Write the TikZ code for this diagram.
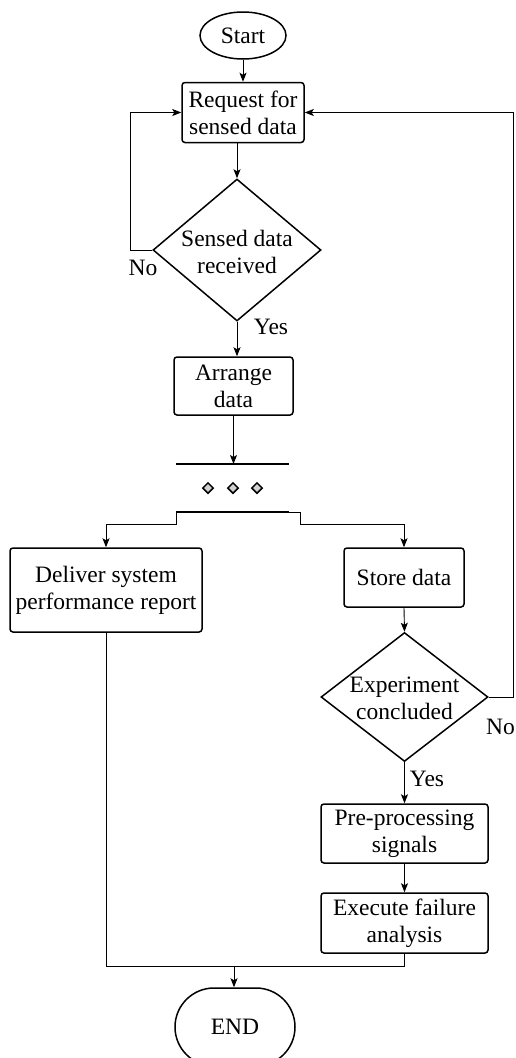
\documentclass[tikz,border=0pt]{standalone}
\usepackage{fontspec}
\setmainfont{Liberation Serif}
\usetikzlibrary{shapes.geometric,shapes.misc,arrows.meta}
\begin{document}
\begin{tikzpicture}[x=1pt,y=-1pt,
  txt/.style={font=\fontsize{23.5}{27}\selectfont, align=center, inner sep=0pt},
  procbox/.style={draw, line width=1.5pt, rounded corners=3pt, txt},
  decbox/.style={draw, diamond, line width=1.5pt, inner sep=0pt},
  conn/.style={line width=0.9pt},
  arrow/.style={conn, -{Stealth[length=9pt,width=7pt,inset=2pt]}},
  bar/.style={line width=2.2pt},
  dot/.style={draw, diamond, fill=gray!35, line width=1.5pt, minimum width=11pt, minimum height=11pt, inner sep=0pt}
]
\useasboundingbox (0,0) rectangle (516,1058);

% nodes
\node[draw, ellipse, line width=1.5pt, minimum width=86, minimum height=47, txt] (start) at (243,35.5) {Start};
\node[procbox, minimum width=122, minimum height=60] (req) at (243,112.5) {Request for\\sensed data};
\node[decbox, minimum width=168, minimum height=142] (d1) at (237,250) {};
\node[txt] (d1t) at (237,252) {Sensed data\\received};
\node[procbox, minimum width=119, minimum height=58] (arr) at (233.5,386) {Arrange\\data};

\coordinate (b1l) at (176,464);
\coordinate (b1r) at (289,464);
\coordinate (b2l) at (176,512);
\coordinate (b2r) at (289,512);
\node[dot] (m1) at (208,488) {};
\node[dot] (m2) at (233,488) {};
\node[dot] (m3) at (257,488) {};

\node[procbox, minimum width=192, minimum height=84] (del) at (106,590) {Deliver system\\performance report};
\node[procbox, minimum width=120, minimum height=59] (sto) at (404,577.5) {Store data};
\node[decbox, minimum width=167, minimum height=129] (d2) at (404.5,697) {};
\node[txt] (d2t) at (404.5,698) {Experiment\\concluded};
\node[procbox, minimum width=167, minimum height=59] (pre) at (404.5,833.5) {Pre-processing\\signals};
\node[procbox, minimum width=167, minimum height=60] (exe) at (404.5,923) {Execute failure\\analysis};
\node[draw, rounded rectangle, line width=1.5pt, minimum width=120, minimum height=78, txt] (endn) at (235,1027) {END};

% labels
\node[txt] (no1) at (143,268) {No};
\node[txt] (yes1) at (271,327) {Yes};
\node[txt, anchor=east] (no2) at (515,727) {No};
\node[txt] (yes2) at (427,779) {Yes};

% bars
\draw[bar] (b1l) -- (b1r);
\draw[bar] (b2l) -- (b2r);

% connectors
\draw[arrow] (start.south) -- (start.south |- req.north);
\draw[arrow] (d1.north |- req.south) -- (d1.north);
\coordinate (l1) at (130,112.5);
\draw[arrow] (d1.west) -| (l1) -- (req.west);
\draw[arrow] (d1.south) -- (d1.south |- arr.north);
\draw[arrow] (arr.south) -- (arr.south |- b1l);

\coordinate (fl) at (106,524);
\coordinate (fr1) at (300,512);
\coordinate (fr2) at (300,524);
\draw[arrow] (b2l) |- (fl) -- (del.north);
\draw[arrow] (b2r) -- (fr1) -- (fr2) -| (sto.north);

\draw[arrow] (sto.south) -- (d2.north);
\draw[arrow] (d2.south) -- (pre.north);
\draw[arrow] (pre.south) -- (exe.north);

\coordinate (r1) at (513,112.5);
\draw[arrow] (d2.east) -| (r1) -- (req.east);

\coordinate (mg) at (234,966);
\draw[conn] (del.south) |- (mg);
\draw[conn] (exe.south) |- (mg);
\draw[arrow] (mg) -- (mg |- endn.north);
\end{tikzpicture}
\end{document}
